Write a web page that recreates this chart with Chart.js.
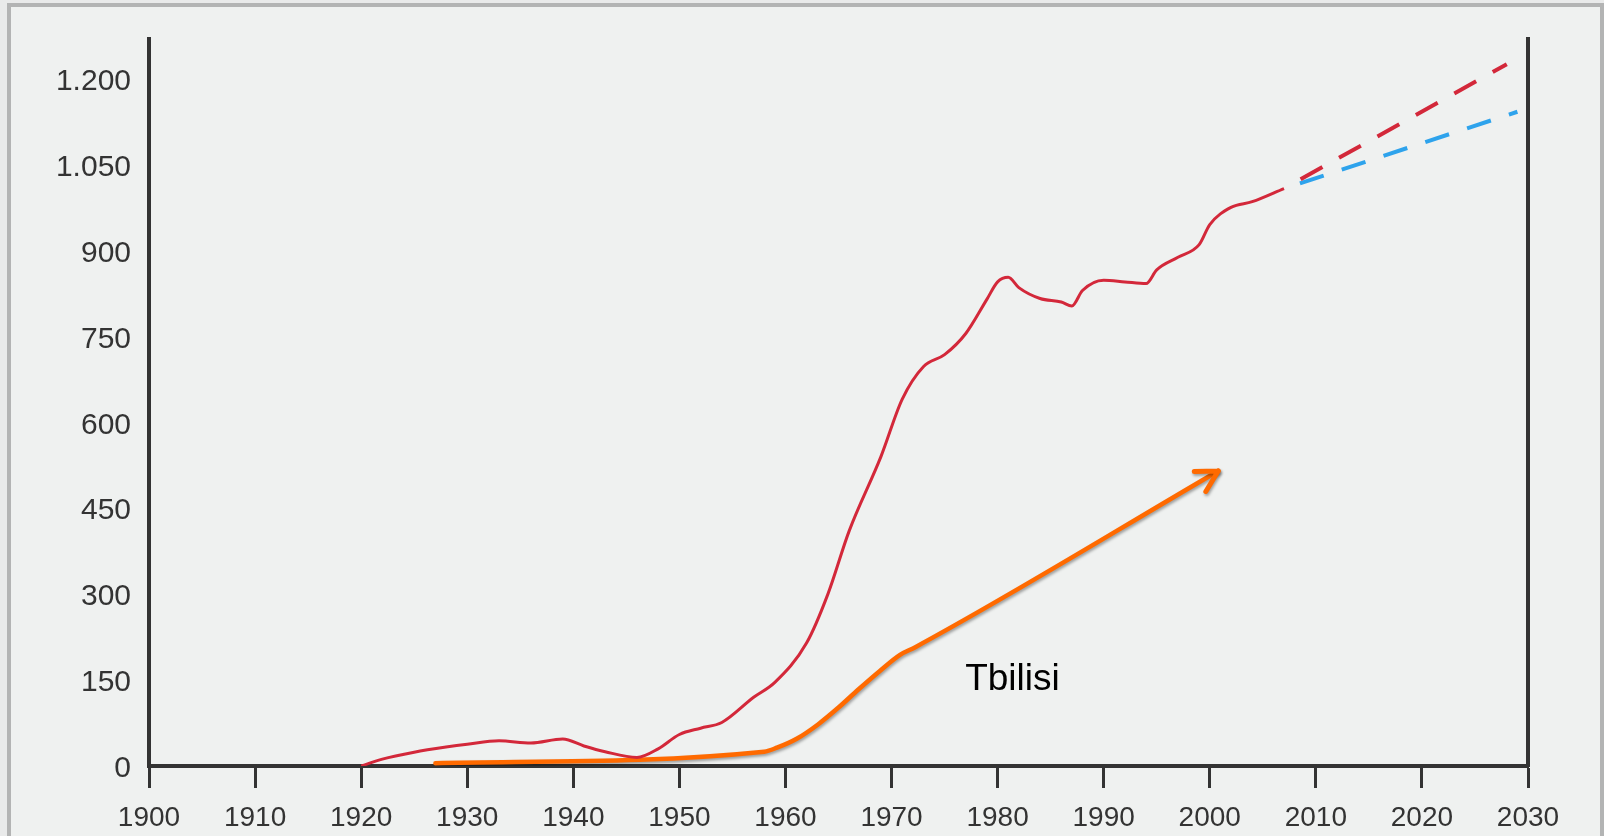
<!DOCTYPE html>
<html>
<head>
<meta charset="utf-8">
<script src="https://cdn.jsdelivr.net/npm/chart.js@4.4.1/dist/chart.umd.min.js"></script>
<style>
  html, body { margin: 0; padding: 0; overflow: hidden; background: #e9eaea; }
  .frame {
    position: absolute; left: 7px; top: 3px; width: 1589px; height: 900px;
    border: 4px solid #b3b4b4; border-bottom: none; background: #eff1f0;
  }
  #wrap { position: absolute; left: 0; top: 0; width: 1604px; height: 836px; }
</style>
</head>
<body>
<div class="frame"></div>
<div id="wrap"><canvas id="myChart"></canvas></div>
<script>
// year / value pairs
const years = [1920, 1922, 1925, 1928, 1930, 1933, 1936, 1939, 1941, 1943, 1946, 1948, 1950, 1952, 1954,
  1957, 1959, 1962, 1964, 1966, 1969, 1971, 1973, 1975, 1977, 1979, 1980, 1981, 1982, 1984, 1986, 1987,
  1988, 1990, 1992, 1994, 1995, 1997, 1999, 2000, 2002, 2004, 2007];
const values = [0, 12, 24, 33, 38, 44, 40, 47, 35, 25, 15, 30, 55, 66, 76,
  120, 146, 215, 300, 410, 540, 640, 697, 718, 755, 815, 845, 853, 835, 816, 810, 803,
  830, 848, 845, 842, 866, 888, 910, 945, 975, 985, 1008];

const highYears = [2007, 2028];
const highValues = [1008, 1225];
const lowYears = [2008.5, 2029];
const lowValues = [1017, 1142];

// orange hand-drawn arrow
const arrowYears = [1927, 1958, 1959.2, 1961.1, 1963.1, 1965, 1966.9, 1968.9, 1970.8, 1972.2, 2000.8];
const arrowValues = [5, 25, 32, 48, 73, 102, 134, 166, 194, 207, 515];
const noteText = "Tbilisi";
const noteYear = 1981.4, noteValue = 150;

const xTicks = [1900, 1910, 1920, 1930, 1940, 1950, 1960, 1970, 1980, 1990, 2000, 2010, 2020, 2030];
const yTicks = [0, 150, 300, 450, 600, 750, 900, 1050, 1200];
const yTickLabels = ["0", "150", "300", "450", "600", "750", "900", "1.050", "1.200"];

const pts = (xs, ys) => xs.map((x, i) => ({ x: x, y: ys[i] }));

const arrowPlugin = {
  id: "arrowNote",
  beforeDatasetDraw(chart, args) {
    if (args.index === 3) {
      const c = chart.ctx;
      c.save();
      c.shadowColor = "rgba(0,0,0,0.35)";
      c.shadowOffsetX = 1;
      c.shadowOffsetY = 2;
      c.shadowBlur = 3;
    }
  },
  afterDatasetDraw(chart, args) {
    if (args.index === 3) {
      const c = chart.ctx;
      const d = chart.getDatasetMeta(3).data;
      const a = d[d.length - 2], b = d[d.length - 1];
      const ang = Math.atan2(b.y - a.y, b.x - a.x) + Math.PI;
      c.strokeStyle = "#ff6a00";
      c.lineWidth = 5;
      c.lineCap = "round";
      c.beginPath();
      [-0.5, 0.5].forEach(off => {
        c.moveTo(b.x, b.y);
        c.lineTo(b.x + 24 * Math.cos(ang + off), b.y + 24 * Math.sin(ang + off));
      });
      c.stroke();
      c.restore();
    }
  },
  afterDraw(chart) {
    const c = chart.ctx;
    c.save();
    c.font = "37px 'Liberation Sans', Arial, sans-serif";
    c.fillStyle = "#000";
    c.textAlign = "center";
    c.textBaseline = "middle";
    c.fillText(noteText, chart.scales.x.getPixelForValue(noteYear), chart.scales.y.getPixelForValue(noteValue));
    c.restore();
  }
};

const ctx = document.getElementById("myChart");
new Chart(ctx, {
  type: "line",
  data: {
    datasets: [
      {
        data: pts(years, values),
        borderColor: "#d3283a",
        borderWidth: 3,
        pointRadius: 0,
        cubicInterpolationMode: "monotone",
      },
      {
        data: pts(highYears, highValues),
        borderColor: "#d3283a",
        borderWidth: 4,
        borderDash: [25, 19],
        borderDashOffset: 25,
        pointRadius: 0,
      },
      {
        data: pts(lowYears, lowValues),
        borderColor: "#2ea3ec",
        borderWidth: 4,
        borderDash: [25, 19],
        pointRadius: 0,
      },
      {
        data: pts(arrowYears, arrowValues),
        borderColor: "#ff6a00",
        borderWidth: 4.5,
        borderCapStyle: "round",
        pointRadius: 0,
        cubicInterpolationMode: "monotone",
      },
    ],
  },
  options: {
    responsive: true,
    maintainAspectRatio: false,
    animation: false,
    layout: { padding: { top: 39, right: 76, left: 0, bottom: 0 } },
    plugins: { legend: { display: false }, tooltip: { enabled: false } },
    scales: {
      x: {
        type: "linear",
        min: 1900,
        max: 2030,
        afterBuildTicks: (s) => { s.ticks = xTicks.map(v => ({ value: v })); },
        afterFit: (s) => { s.height = 70; },
        ticks: { color: "#333", font: { family: "'Liberation Sans', Arial, sans-serif", size: 28 },
          padding: 13, maxRotation: 0, autoSkip: false, callback: (v) => String(v) },
        grid: { drawOnChartArea: false, drawTicks: true, tickLength: 22, tickWidth: 3, tickColor: "#333" },
        border: { color: "#333", width: 4 },
      },
      y: {
        min: 0,
        max: 1269,
        afterBuildTicks: (s) => { s.ticks = yTicks.map(v => ({ value: v })); },
        afterFit: (s) => { s.width = 149; },
        ticks: { color: "#333", font: { family: "'Liberation Sans', Arial, sans-serif", size: 30 },
          padding: 18, labelOffset: 3, callback: (v, i) => yTickLabels[i] },
        grid: { drawOnChartArea: false, drawTicks: false },
        border: { color: "#333", width: 4 },
      },
      y2: {
        position: "right",
        min: 0,
        max: 1269,
        afterFit: (s) => { s.width = 0; },
        ticks: { display: false },
        grid: { drawOnChartArea: false, drawTicks: false },
        border: { color: "#333", width: 4 },
      },
    },
  },
  plugins: [arrowPlugin],
});
</script>
</body>
</html>
